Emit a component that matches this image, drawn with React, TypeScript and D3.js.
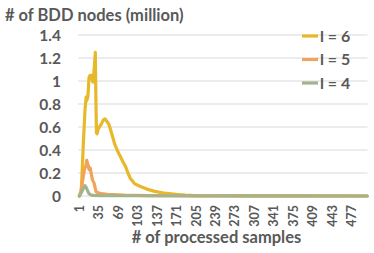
import React from 'react';
import * as d3 from 'd3';

// number of processed samples on the category axis
const sampleCount = 504;
const sampleTicks = [1, 35, 69, 103, 137, 171, 205, 239, 273, 307, 341, 375, 409, 443, 477];
const nodeTicks = [0, 0.2, 0.4, 0.6, 0.8, 1, 1.2, 1.4];

// l = 6 : (sample, million nodes)
const l6Samples = [1, 4, 5, 8, 11, 13, 14, 15, 16, 18, 20, 22, 24, 25, 27, 29, 30, 31, 32, 34, 36, 40, 43, 46, 49, 53, 56, 59, 63, 67, 70, 74, 77, 82, 86, 90, 94, 97, 102, 109, 119, 133, 149, 170, 186, 204, 240, 300, 400, 504];
const l6Values = [0, 0.03, 0.1, 0.45, 0.75, 0.86, 0.83, 0.85, 0.86, 1.03, 1.05, 1.05, 1.0, 0.99, 1.1, 1.25, 0.85, 0.55, 0.54, 0.58, 0.6, 0.63, 0.66, 0.67, 0.65, 0.62, 0.57, 0.52, 0.45, 0.4, 0.37, 0.33, 0.3, 0.255, 0.2, 0.155, 0.13, 0.11, 0.095, 0.08, 0.06, 0.04, 0.025, 0.015, 0.008, 0.004, 0.002, 0.001, 0.0005, 0];

// l = 5
const l5Samples = [1, 4, 7, 10, 13, 14, 15, 17, 18, 20, 22, 24, 27, 30, 33, 39, 50, 79, 122, 210, 504];
const l5Values = [0, 0.04, 0.14, 0.23, 0.27, 0.31, 0.29, 0.26, 0.23, 0.245, 0.19, 0.14, 0.11, 0.04, 0.03, 0.02, 0.015, 0.008, 0.003, 0.001, 0];

// l = 4
const l4Samples = [1, 3, 5, 8, 10, 11, 13, 16, 18, 21, 24, 40, 100, 300, 504];
const l4Values = [0, 0.015, 0.035, 0.065, 0.08, 0.09, 0.075, 0.04, 0.02, 0.01, 0.005, 0.003, 0.002, 0.001, 0];

const seriesList = [
  { name: 'l = 6', samples: l6Samples, values: l6Values, color: '#E7B92A' },
  { name: 'l = 5', samples: l5Samples, values: l5Values, color: '#F3A25A' },
  { name: 'l = 4', samples: l4Samples, values: l4Values, color: '#A3B48C' },
];

const textColor = '#595959';
const font = 'Lato, "Open Sans", sans-serif';

const App = () => {
  const width = 374;
  const height = 253;
  const plot = { left: 79, right: 367.5, top: 35, bottom: 196 };

  const x = d3.scaleLinear()
    .domain([0.5, sampleCount + 0.5])
    .range([plot.left, plot.right]);
  const y = d3.scaleLinear()
    .domain([0, 1.4])
    .range([plot.bottom, plot.top]);

  const line = d3.line<[number, number]>()
    .x((d) => x(d[0]))
    .y((d) => y(d[1]));

  return (
    <svg
      width={width}
      height={height}
      style={{ position: 'absolute', left: 0, top: 0, background: '#fff' }}
      fontFamily={font}
      fontWeight="bold"
      fill={textColor}
    >
      {/* gridlines */}
      {nodeTicks.map((t) => (
        <line key={`g${t}`} x1={plot.left - 1} x2={plot.right} y1={y(t)} y2={y(t)} stroke="#D9D9D9" strokeWidth={1} />
      ))}
      {/* y tick labels */}
      {nodeTicks.map((t) => (
        <text key={`y${t}`} x={61} y={y(t)} dy="0.36em" textAnchor="end" fontSize={15.5}>{String(t)}</text>
      ))}
      {/* x tick labels, rotated */}
      {sampleTicks.map((t) => (
        <text
          key={`x${t}`}
          transform={`translate(${x(t) + 4.5},205) rotate(-90)`}
          textAnchor="end"
          fontSize={12.5}
        >
          {t}
        </text>
      ))}
      {/* series */}
      {seriesList.map((s) => (
        <path
          key={s.name}
          d={line(s.samples.map((d, i) => [d, s.values[i]] as [number, number])) || ''}
          fill="none"
          stroke={s.color}
          strokeWidth={3.2}
          strokeLinejoin="round"
          strokeLinecap="round"
        />
      ))}
      {/* titles */}
      <text x={5} y={21} fontSize={16.5}># of BDD nodes (million)</text>
      <text x={216.5} y={243} textAnchor="middle" fontSize={16.5}># of processed samples</text>
      {/* legend */}
      {seriesList.map((s, i) => (
        <g key={`l${s.name}`} transform={`translate(302,${36 + i * 23.5})`}>
          <line x1={0} x2={16} y1={0} y2={0} stroke={s.color} strokeWidth={3.2} />
          <text x={18} y={0} dy="0.36em" fontSize={16}>{s.name}</text>
        </g>
      ))}
    </svg>
  );
};

export default App;
